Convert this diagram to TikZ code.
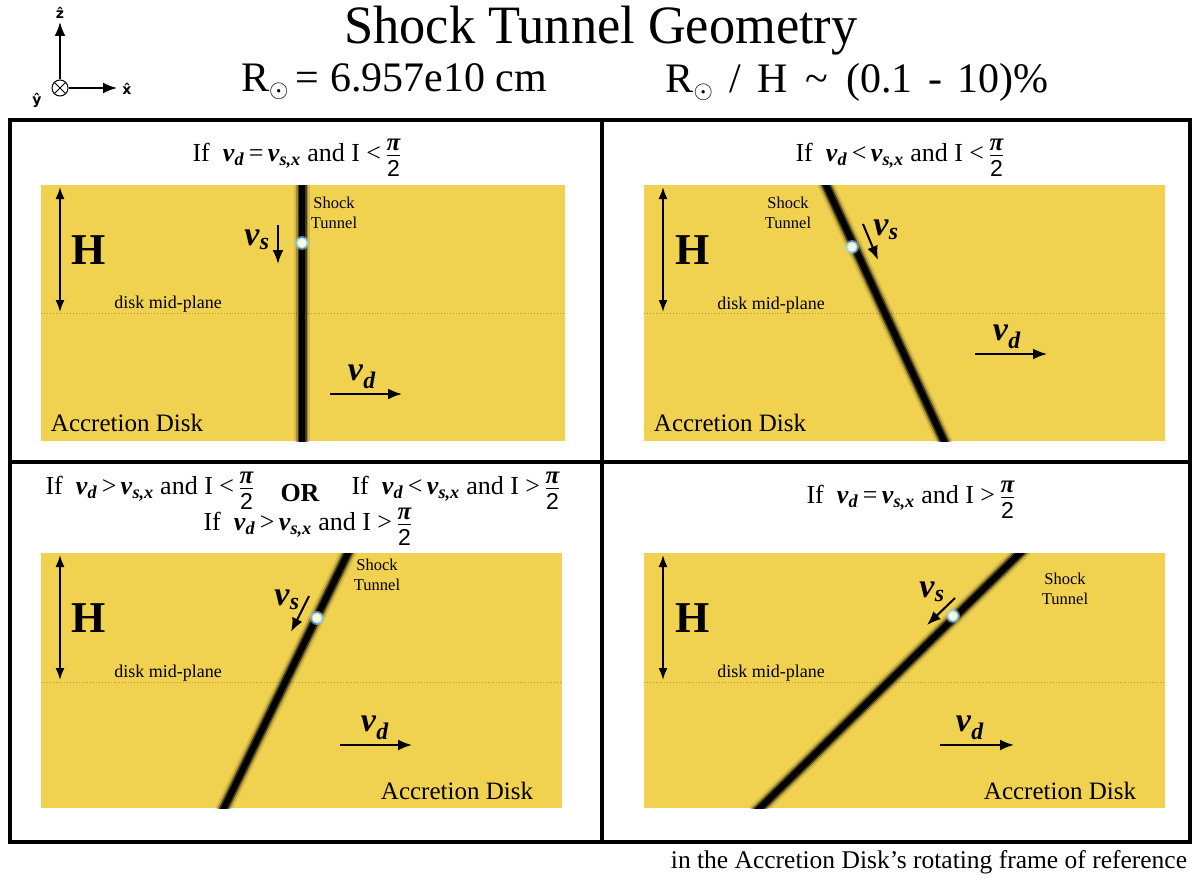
\documentclass[tikz,border=0pt]{standalone}
\usepackage{fontspec}
\usepackage{amsmath}
\setmainfont{Liberation Serif}
\setsansfont{Liberation Sans}
\newfontfamily\axfont{DejaVu Sans}
\usetikzlibrary{arrows.meta}
\definecolor{disky}{RGB}{240,209,80}
\definecolor{midc}{RGB}{175,145,90}
\definecolor{halo}{RGB}{140,210,240}
\definecolor{starcore}{RGB}{250,250,220}
\newcommand\myvel[1]{\textbf{\textit{v}}\textsubscript{\textbf{\textit{#1}}}}
\newcommand\pihalf{\ensuremath{\genfrac{}{}{1.1pt}{1}{\hbox{\fontsize{25}{25}\selectfont\bfseries\itshape π\rule[-3pt]{0pt}{3pt}}}{\hbox{\fontsize{23}{23}\selectfont\sffamily 2\rule{0pt}{20pt}}}}}
\newcommand\shocktube[3]{% clip node, start, end
  \begin{scope}
    \clip (#1.south west) rectangle (#1.north east);
    \draw[line width=16pt, black, opacity=0.10] (#2) -- (#3);
    \draw[line width=12pt, black, opacity=0.25] (#2) -- (#3);
    \draw[line width=9pt, black, opacity=0.55] (#2) -- (#3);
    \draw[line width=6pt, black] (#2) -- (#3);
  \end{scope}}
\newcommand\glowstar[2]{% name, position
  \fill[halo, opacity=0.6] (#2) circle (7pt);
  \fill[halo!60!white] (#2) circle (5.5pt);
  \fill[starcore] (#2) circle (4pt);
  \coordinate (#1) at (#2);}
\begin{document}
\begin{tikzpicture}[x=1pt,y=-1pt,
  disk/.style={fill=disky, draw=none, inner sep=0pt, outer sep=0pt},
  frameline/.style={line width=4pt, black},
  midplane/.style={dotted, midc, line width=0.9pt},
  harrow/.style={{Latex[length=12pt,width=9pt]}-{Latex[length=12pt,width=9pt]}, line width=1.8pt},
  varrow/.style={-{Latex[length=14pt,width=11pt]}, line width=2pt},
  axarrow/.style={-{Latex[length=14pt,width=11pt]}, line width=2pt},
  cond/.style={font=\fontsize{26}{30}\selectfont, inner sep=0pt},
  tiny/.style={font=\fontsize{16.5}{20}\selectfont, align=center, inner sep=0pt},
  midlabel/.style={font=\fontsize{18}{20}\selectfont, inner sep=0pt},
  Hlabel/.style={font=\fontsize{44}{44}\selectfont\bfseries, inner sep=0pt},
  disklabel/.style={font=\fontsize{25}{28}\selectfont, inner sep=0pt},
  vlabel/.style={font=\fontsize{34}{34}\selectfont, inner sep=0pt},
  axlabel/.style={font=\fontsize{14}{14}\selectfont\axfont\bfseries, inner sep=0pt}
]
\useasboundingbox (0,0) rectangle (1199,880);
\fill[white] (0,0) rectangle (1199,880);

% ---------- axes ----------
\node[draw, circle, line width=1pt, minimum size=16pt, inner sep=0pt] (ycirc) at (60,88) {};
\draw[line width=1pt] (ycirc.north east) -- (ycirc.south west) (ycirc.north west) -- (ycirc.south east);
\coordinate (ztip) at (60,22);
\coordinate (xtip) at (117,88);
\draw[axarrow] (ycirc.north) -- (ztip);
\draw[axarrow] (ycirc.east) -- (xtip);
\node[axlabel] (zlab) at (60,13) {\^{z}};
\node[axlabel] (xlab) at (127,89) {\^{x}};
\node[axlabel] (ylab) at (37,100) {\^{y}};

% ---------- titles ----------
\node[font=\fontsize{54}{60}\selectfont, inner sep=0pt, xscale=0.97] (title) at (601,31) {Shock Tunnel Geometry};
\node[font=\fontsize{42}{46}\selectfont, inner sep=0pt] (rsun) at (394,82) {R\textsubscript{$\odot$}\,= 6.957e10 cm};
\node[font=\fontsize{42}{46}\selectfont, inner sep=0pt] (ratio) at (857,82) {R\textsubscript{$\odot$}\hspace{6pt} / \hspace{6pt}H \hspace{7pt}\textasciitilde\hspace{7pt} (0.1 \hspace{5pt}- \hspace{5pt}10)\%};

% ---------- disks ----------
\node[disk, minimum width=524pt, minimum height=256pt] (d1) at (303,313) {};
\node[disk, minimum width=521pt, minimum height=256pt] (d2) at (904.5,313) {};
\node[disk, minimum width=521pt, minimum height=255pt] (d3) at (301.5,680.5) {};
\node[disk, minimum width=521pt, minimum height=255pt] (d4) at (904.5,680.5) {};

% mid-planes
\draw[midplane] (d1.west |- 0,313) -- (d1.east |- 0,313);
\draw[midplane] (d2.west |- 0,313) -- (d2.east |- 0,313);
\draw[midplane] (d3.west |- 0,682) -- (d3.east |- 0,682);
\draw[midplane] (d4.west |- 0,682) -- (d4.east |- 0,682);

% tunnels
\coordinate (t1a) at (302,180); \coordinate (t1b) at (302,446);
\coordinate (t2a) at (823.7,180); \coordinate (t2b) at (946.3,446);
\coordinate (t3a) at (350.4,548); \coordinate (t3b) at (221.6,813);
\coordinate (t4a) at (1025.1,548); \coordinate (t4b) at (754.9,813);
\shocktube{d1}{t1a}{t1b}
\shocktube{d2}{t2a}{t2b}
\shocktube{d3}{t3a}{t3b}
\shocktube{d4}{t4a}{t4b}

% stars
\glowstar{s1}{302,243}
\glowstar{s2}{852,247}
\glowstar{s3}{317,618}
\glowstar{s4}{953,616}

% ---------- panel 1 ----------
\node[cond] (c1) at (297,158) {If\ \ \myvel{d}\,=\,\myvel{s,x} and I <\,\pihalf};
\coordinate (h1a) at (60,187); \coordinate (h1b) at (60,312);
\draw[harrow] (h1a) -- (h1b);
\node[Hlabel] (H1) at (89,250) {H};
\node[midlabel] (m1) at (168,304) {disk mid-plane};
\node[tiny] (st1) at (334,213) {Shock\\Tunnel};
\node[vlabel] (vs1) at (257,240) {\myvel{s}};
\coordinate (vs1a) at (278,225); \coordinate (vs1b) at (278,264);
\draw[varrow] (vs1a) -- (vs1b);
\node[vlabel] (vd1) at (362,377) {\myvel{d}};
\coordinate (vd1a) at (330,394); \coordinate (vd1b) at (402,394);
\draw[varrow] (vd1a) -- (vd1b);
\node[disklabel] (a1) at (127,423) {Accretion Disk};

% ---------- panel 2 ----------
\node[cond] (c2) at (900,158) {If\ \ \myvel{d}\,<\,\myvel{s,x} and I <\,\pihalf};
\coordinate (h2a) at (663,187); \coordinate (h2b) at (663,312);
\draw[harrow] (h2a) -- (h2b);
\node[Hlabel] (H2) at (693,250) {H};
\node[midlabel] (m2) at (771,305) {disk mid-plane};
\node[tiny] (st2) at (788,213) {Shock\\Tunnel};
\node[vlabel] (vs2) at (886,230) {\myvel{s}};
\coordinate (vs2a) at (863,224); \coordinate (vs2b) at (878,260);
\draw[varrow] (vs2a) -- (vs2b);
\node[vlabel] (vd2) at (1007,337) {\myvel{d}};
\coordinate (vd2a) at (975,354); \coordinate (vd2b) at (1047,354);
\draw[varrow] (vd2a) -- (vd2b);
\node[disklabel] (a2) at (730,423) {Accretion Disk};

% ---------- panel 3 ----------
\node[cond] (c3a) at (150,491) {If\ \ \myvel{d}\,>\,\myvel{s,x} and I <\,\pihalf};
\node[cond, font=\fontsize{26}{30}\selectfont\bfseries] (or3) at (300,493) {OR};
\node[cond] (c3b) at (456,491) {If\ \ \myvel{d}\,<\,\myvel{s,x} and I >\,\pihalf};
\node[cond] (c3c) at (308,527) {If\ \ \myvel{d}\,>\,\myvel{s,x} and I >\,\pihalf};
\coordinate (h3a) at (60,555); \coordinate (h3b) at (60,680);
\draw[harrow] (h3a) -- (h3b);
\node[Hlabel] (H3) at (89,618) {H};
\node[midlabel] (m3) at (168,673) {disk mid-plane};
\node[tiny] (st3) at (377,575) {Shock\\Tunnel};
\node[vlabel] (vs3) at (287,600) {\myvel{s}};
\coordinate (vs3a) at (309,596); \coordinate (vs3b) at (291,632);
\draw[varrow] (vs3a) -- (vs3b);
\node[vlabel] (vd3) at (375,728) {\myvel{d}};
\coordinate (vd3a) at (340,745); \coordinate (vd3b) at (412,745);
\draw[varrow] (vd3a) -- (vd3b);
\node[disklabel] (a3) at (457,791) {Accretion Disk};

% ---------- panel 4 ----------
\node[cond] (c4) at (911,500) {If\ \ \myvel{d}\,=\,\myvel{s,x} and I >\,\pihalf};
\coordinate (h4a) at (663,555); \coordinate (h4b) at (663,680);
\draw[harrow] (h4a) -- (h4b);
\node[Hlabel] (H4) at (693,618) {H};
\node[midlabel] (m4) at (771,673) {disk mid-plane};
\node[tiny] (st4) at (1065,589) {Shock\\Tunnel};
\node[vlabel] (vs4) at (932,592) {\myvel{s}};
\coordinate (vs4a) at (955,598); \coordinate (vs4b) at (927,625);
\draw[varrow] (vs4a) -- (vs4b);
\node[vlabel] (vd4) at (970,728) {\myvel{d}};
\coordinate (vd4a) at (940,745); \coordinate (vd4b) at (1014,745);
\draw[varrow] (vd4a) -- (vd4b);
\node[disklabel] (a4) at (1060,791) {Accretion Disk};

% ---------- frame ----------
\coordinate (fA) at (10,120); \coordinate (fB) at (1190,842);
\draw[frameline] (fA) rectangle (fB);
\coordinate (fT) at (602,120); \coordinate (fBm) at (602,842);
\coordinate (fL) at (10,462); \coordinate (fR) at (1190,462);
\draw[frameline] (fT) -- (fBm);
\draw[frameline] (fL) -- (fR);

% caption
\node[font=\fontsize{25.5}{28}\selectfont, inner sep=0pt] (cap) at (929,862) {in the Accretion Disk’s rotating frame of reference};
\end{tikzpicture}
\end{document}
